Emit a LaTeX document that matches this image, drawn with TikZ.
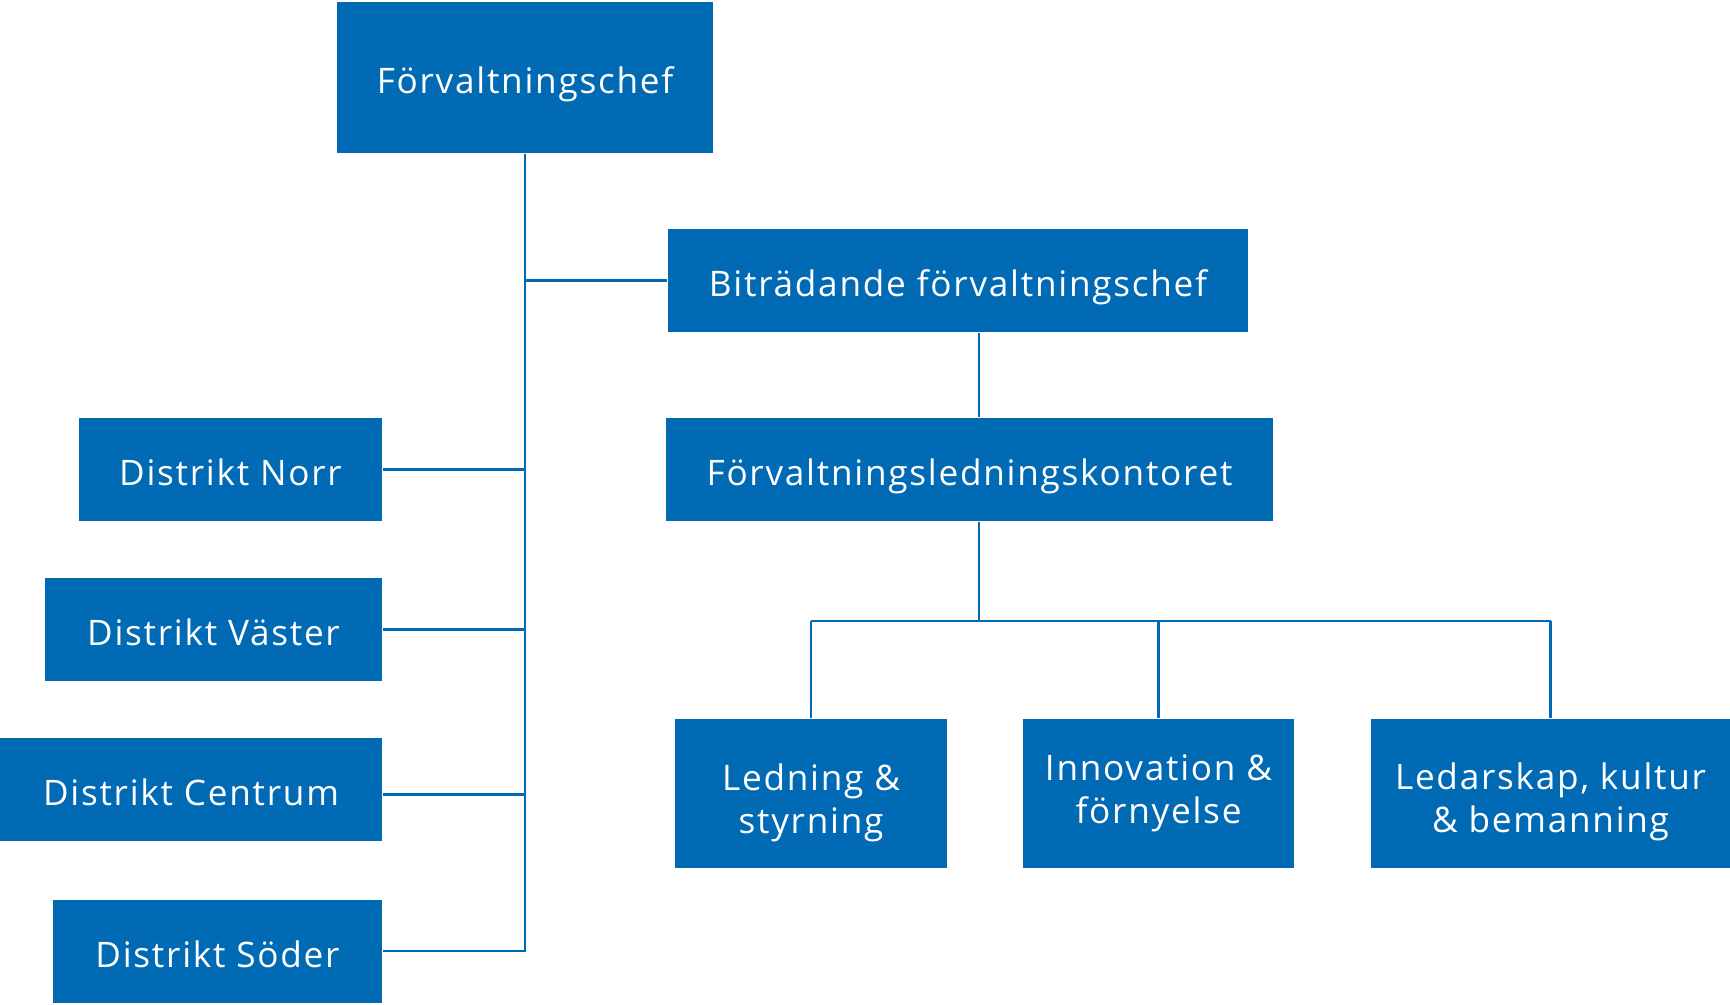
\documentclass[tikz,border=0pt]{standalone}
\usepackage{fontspec}
\setmainfont{Open Sans}[LetterSpace=5]
\definecolor{orgblue}{RGB}{0,106,180}
\newcommand{\twoline}[3][-1.9mm]{\raisebox{#1}[0pt][0pt]{\begin{tabular}{@{}c@{}}#2\\#3\end{tabular}}}
\tikzset{
  box/.style={fill=orgblue, text=white, inner sep=0pt, align=center,
    minimum height=1.03cm, text height=1.8ex, text depth=0.1ex,
    font=\fontsize{10}{12.2}\selectfont},
  tallbox/.style={box, minimum height=1.49cm, text height=, text depth=},
  link/.style={draw=orgblue, line width=0.65pt}
}
\begin{document}
\begin{tikzpicture}
  \useasboundingbox (0,0) rectangle (17.30,-10.04);
  \node[box, minimum width=3.76cm, minimum height=1.51cm] (chef) at (5.25,-0.775) {Förvaltningschef};
  \node[box, minimum width=5.80cm] (bitr) at (9.58,-2.805) {Biträdande förvaltningschef};
  \node[box, minimum width=6.07cm] (flk) at (9.695,-4.695) {Förvaltningsledningskontoret};
  \node[box, minimum width=3.03cm] (norr) at (2.305,-4.695) {Distrikt Norr};
  \node[box, minimum width=3.37cm] (vaster) at (2.135,-6.295) {Distrikt Väster};
  \node[box, minimum width=3.82cm] (centrum) at (1.91,-7.895) {Distrikt Centrum};
  \node[box, minimum width=3.29cm] (soder) at (2.175,-9.51) {Distrikt Söder};
  \node[tallbox, minimum width=2.72cm] (ledn) at (8.11,-7.935) {\twoline{Ledning \&}{styrning}};
  \node[tallbox, minimum width=2.71cm] (innov) at (11.585,-7.935) {\twoline[-0.9mm]{Innovation \&}{förnyelse}};
  \node[tallbox, minimum width=3.59cm] (ledar) at (15.505,-7.935) {\twoline[-1.8mm]{Ledarskap, kultur}{\& bemanning}};
  \coordinate (kx) at (9.79,0);
  \coordinate (bar) at (0,-6.21);
  \draw[link] (chef.south) -- (chef.south |- soder.east) -- (soder.east);
  \draw[link] (chef.south |- bitr.west) -- (bitr.west);
  \draw[link] (norr.east) -- (norr.east -| chef.south);
  \draw[link] (vaster.east) -- (vaster.east -| chef.south);
  \draw[link] ([yshift=-0.05cm]centrum.east) -- ([yshift=-0.05cm]centrum.east -| chef.south);
  \draw[link] (bitr.south -| kx) -- (flk.north -| kx);
  \draw[link] (flk.south -| kx) -- (bar -| kx);
  \draw[link] (ledn.north |- bar) -- (ledar.north |- bar);
  \draw[link] (ledn.north) -- (ledn.north |- bar);
  \draw[link] (innov.north) -- (innov.north |- bar);
  \draw[link] (ledar.north) -- (ledar.north |- bar);
\end{tikzpicture}
\end{document}
